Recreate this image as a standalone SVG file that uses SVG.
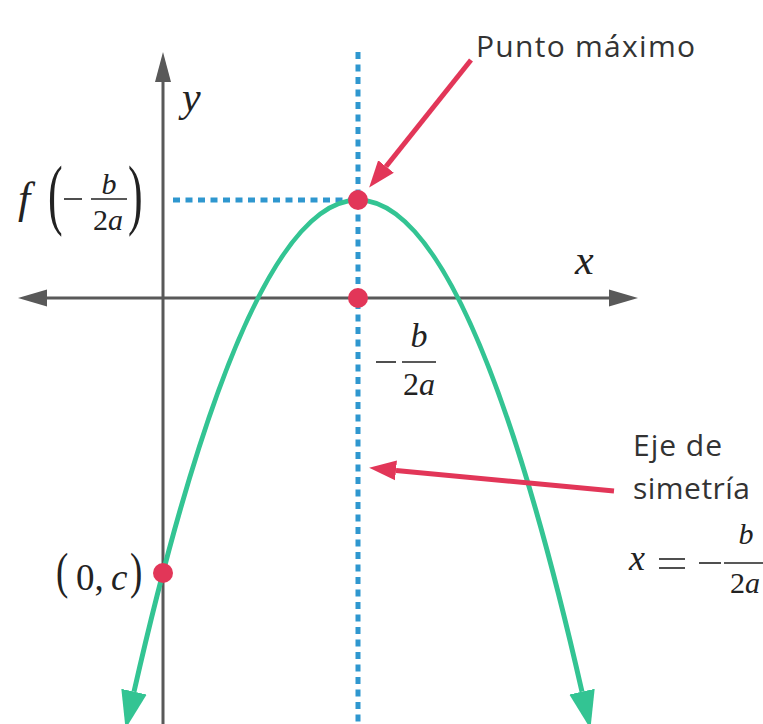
<svg xmlns="http://www.w3.org/2000/svg" width="763" height="724" viewBox="0 0 763 724">
<style>
.axis{stroke:#595959;stroke-width:3;fill:none}
.axhead{fill:#595959}
.guide{stroke:#2f97cf;stroke-width:5;stroke-dasharray:7 5.5;fill:none}
.curve{stroke:#33c493;stroke-width:5;fill:none}
.pt{fill:#e23658}
.conn{stroke:#e23658;stroke-width:5;fill:none}
.lbl{font-family:"Open Sans","DejaVu Sans",sans-serif;font-size:30px;fill:#333}
.m{font-family:"Liberation Serif",serif;fill:#222}
.i{font-style:italic}
.bar{stroke:#222;stroke-width:1.6}
</style>
<defs>
<marker id="gh" markerUnits="userSpaceOnUse" markerWidth="40" markerHeight="30" refX="0" refY="13" orient="auto-start-reverse" viewBox="0 0 40 26">
<path d="M0,0 L38,13 L0,26 z" fill="#33c493"/>
</marker>
<marker id="rh" markerUnits="userSpaceOnUse" markerWidth="28" markerHeight="22" refX="0" refY="10" orient="auto" viewBox="0 0 28 20">
<path d="M0,0 L27,10 L0,20 z" fill="#e23658"/>
</marker>
</defs>

<g id="axes">
<line class="axis" x1="163" y1="78" x2="163" y2="724"/>
<polygon class="axhead" points="163,52 155,82 171,82"/>
<line class="axis" x1="44" y1="298" x2="612" y2="298"/>
<polygon class="axhead" points="18,298 47,289.5 47,306.5"/>
<polygon class="axhead" points="638,298 609,289.5 609,306.5"/>
<text class="m i" x="182" y="111" font-size="42">y</text>
<text class="m i" x="575" y="274" font-size="42">x</text>
</g>

<g id="guides">
<line class="guide" x1="358" y1="52" x2="358" y2="724"/>
<line class="guide" x1="173" y1="200" x2="352" y2="200"/>
</g>

<g id="parabola">
<path class="curve" d="M134,691.7 Q358,-291.7 582,691.7" marker-start="url(#gh)" marker-end="url(#gh)"/>
</g>

<g id="vertex">
<circle class="pt" cx="358" cy="200" r="10"/>
</g>
<g id="root-x">
<circle class="pt" cx="358" cy="298" r="10"/>
<line class="bar" x1="376" y1="362" x2="396" y2="362"/>
<line class="bar" x1="402" y1="362" x2="436" y2="362"/>
<text class="m i" x="419" y="347" font-size="34" text-anchor="middle">b</text>
<text class="m" x="419" y="395" font-size="32" text-anchor="middle">2<tspan class="i">a</tspan></text>
</g>
<g id="intercept">
<circle class="pt" cx="163" cy="573" r="10"/>
<text class="m" transform="translate(56,588) scale(1,1.35)" font-size="37">(</text>
<text class="m" x="76" y="590" font-size="37">0,</text>
<text class="m i" x="111" y="590" font-size="37">c</text>
<text class="m" transform="translate(130,588) scale(1,1.35)" font-size="37">)</text>
</g>

<g id="f-label">
<text class="m i" x="18" y="213" font-size="44">f</text>
<text class="m" transform="translate(48,220) scale(1,1.8)" font-size="44">(</text>
<line class="bar" x1="64" y1="199" x2="82" y2="199"/>
<line class="bar" x1="91" y1="199" x2="127" y2="199"/>
<text class="m i" x="109" y="194" font-size="30" text-anchor="middle">b</text>
<text class="m" x="108" y="230" font-size="30" text-anchor="middle">2<tspan class="i">a</tspan></text>
<text class="m" transform="translate(128,220) scale(1,1.8)" font-size="44">)</text>
</g>

<g id="label-max">
<text class="lbl" x="476" y="57" textLength="219" lengthAdjust="spacing">Punto máximo</text>
</g>

<g id="label-axis">
<text class="lbl" x="633" y="456" textLength="89" lengthAdjust="spacing">Eje de</text>
<text class="lbl" x="633" y="499" textLength="117" lengthAdjust="spacing">simetría</text>
<text class="m i" x="629" y="570" font-size="36">x</text>
<line class="bar" x1="659" y1="559" x2="685" y2="559"/>
<line class="bar" x1="659" y1="568" x2="685" y2="568"/>
<line class="bar" x1="699" y1="563" x2="721" y2="563"/>
<line class="bar" x1="724" y1="563" x2="763" y2="563"/>
<text class="m i" x="746" y="544" font-size="30" text-anchor="middle">b</text>
<text class="m" x="745" y="593" font-size="30" text-anchor="middle">2<tspan class="i">a</tspan></text>
</g>

<g id="connectors">
<line class="conn" x1="471" y1="60" x2="386" y2="166.5" marker-end="url(#rh)"/>
<line class="conn" x1="614" y1="491" x2="396" y2="470.4" marker-end="url(#rh)"/>
</g>
</svg>
